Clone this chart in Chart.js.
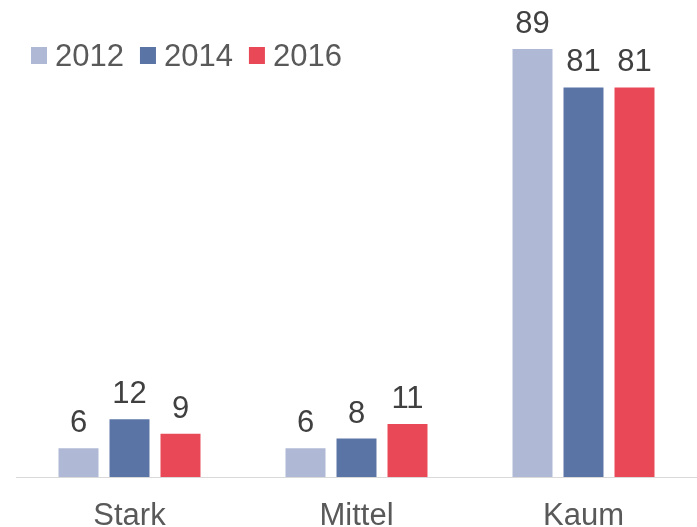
<!DOCTYPE html>
<html>
<head>
<meta charset="utf-8">
<script src="https://cdn.jsdelivr.net/npm/chart.js@4"></script>
<style>
  html, body { margin: 0; padding: 0; background: #fff; }
  #wrap { width: 697px; height: 527px; }
</style>
</head>
<body>
<div id="wrap"><canvas id="chart" width="697" height="527"></canvas></div>
<script>
// Daten
const categories = ['Stark', 'Mittel', 'Kaum'];
const years = ['2012', '2014', '2016'];
const values2012 = [6, 6, 89];
const values2014 = [12, 8, 81];
const values2016 = [9, 11, 81];
const colors = ['#afb8d5', '#5b74a6', '#e94957'];

const FONT = 'Liberation Sans, Arial, sans-serif';

// Werte über den Balken
const valueLabels = {
    id: 'valueLabels',
    afterDatasetsDraw(chart) {
        const ctx = chart.ctx;
        ctx.save();
        ctx.font = '31px ' + FONT;
        ctx.fillStyle = '#404040';
        ctx.textAlign = 'center';
        ctx.textBaseline = 'alphabetic';
        chart.data.datasets.forEach((ds, i) => {
            chart.getDatasetMeta(i).data.forEach((bar, j) => {
                ctx.fillText(String(ds.data[j]), bar.x, bar.y - 16);
            });
        });
        ctx.restore();
    }
};

// Legende oben links (liegt im Diagrammbereich)
const topLegend = {
    id: 'topLegend',
    afterDraw(chart) {
        const ctx = chart.ctx;
        ctx.save();
        ctx.font = '31px ' + FONT;
        ctx.textBaseline = 'alphabetic';
        ctx.textAlign = 'left';
        let x = 31;
        chart.data.datasets.forEach(ds => {
            ctx.fillStyle = ds.backgroundColor;
            ctx.fillRect(x, 47, 16, 17);
            ctx.fillStyle = '#595959';
            ctx.fillText(ds.label, x + 24, 66);
            x += 24 + ctx.measureText(ds.label).width + 16;
        });
        ctx.restore();
    }
};

const ctx = document.getElementById('chart').getContext('2d');
new Chart(ctx, {
    type: 'bar',
    data: {
        labels: categories,
        datasets: [
            { label: years[0], data: values2012, backgroundColor: colors[0] },
            { label: years[1], data: values2014, backgroundColor: colors[1] },
            { label: years[2], data: values2016, backgroundColor: colors[2] }
        ]
    },
    options: {
        responsive: false,
        animation: false,
        layout: { padding: { left: 16, right: 0, top: 49, bottom: 0 } },
        datasets: {
            bar: { categoryPercentage: 0.674, barPercentage: 0.784 }
        },
        plugins: {
            legend: { display: false },
            tooltip: { enabled: false }
        },
        scales: {
            x: {
                grid: { display: false },
                border: { display: true, color: '#d9d9d9', width: 1 },
                ticks: {
                    color: '#595959',
                    padding: 16,
                    font: { family: FONT, size: 31, lineHeight: 1.0 }
                },
                afterFit(scale) { scale.height = 50; }
            },
            y: {
                display: false,
                min: 0,
                max: 89
            }
        }
    },
    plugins: [valueLabels, topLegend]
});
</script>
</body>
</html>
